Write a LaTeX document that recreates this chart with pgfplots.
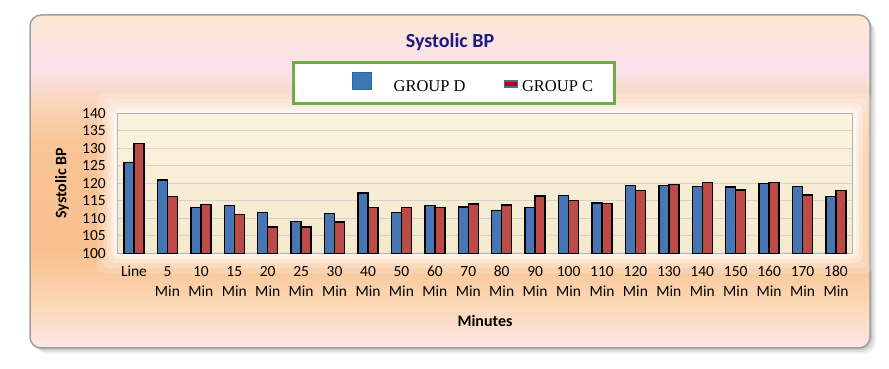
\documentclass[border=0pt]{standalone}
\usepackage{pgfplots}
\pgfplotsset{compat=1.18}
\usepackage{pgfplotstable}
\usepackage{fontspec}
\setmainfont{Carlito}
\newfontfamily\legfont{Liberation Serif}

\definecolor{barblue}{HTML}{4676B4}
\definecolor{barred}{HTML}{BC4A47}
\definecolor{titlenavy}{HTML}{1B1B82}
\definecolor{leggreen}{HTML}{70AD47}
\definecolor{legblue}{HTML}{3A76B8}
\definecolor{legred}{HTML}{C00000}
\definecolor{legredborder}{HTML}{4F6B8F}
\definecolor{fA}{HTML}{FCE7D2}
\definecolor{fB}{HTML}{FBE1EC}
\definecolor{fC}{HTML}{FAD6BE}
\definecolor{fD}{HTML}{F9C596}
\definecolor{fE}{HTML}{F9C08E}
\definecolor{fF}{HTML}{FBD6B2}
\definecolor{fG}{HTML}{FCE6E6}
\definecolor{plottop}{HTML}{FCF3DE}
\definecolor{plotbot}{HTML}{F4E9CC}

\pgfdeclareverticalshading{framebg}{100bp}{color(0bp)=(fG); color(25bp)=(fG); color(32.2bp)=(fF); color(39.7bp)=(fE); color(56.2bp)=(fD); color(62.2bp)=(fC); color(66.7bp)=(fB); color(75bp)=(fA); color(100bp)=(fA)}

\pgfplotstableread{
x D C
0 126.0 131.4
1 120.9 116.2
2 113.0 113.9
3 113.7 111.0
4 111.7 107.5
5 109.1 107.5
6 111.4 108.9
7 117.2 113.0
8 111.6 113.0
9 113.7 113.1
10 113.2 114.1
11 112.2 113.8
12 113.0 116.4
13 116.5 115.0
14 114.4 114.2
15 119.4 117.9
16 119.4 119.6
17 119.0 120.2
18 118.9 118.1
19 119.9 120.2
20 119.0 116.7
21 116.2 117.9
}\datatable

\begin{document}
\begin{tikzpicture}[x=1pt,y=1pt]
\path[use as bounding box] (0,0) rectangle (889,369);
% frame shadow
\foreach \o/\a in {6/0.06,4/0.08,2/0.1}{
  \fill[black,opacity=\a,rounded corners=12pt] (30+\o,21-\o) rectangle (870+\o,354-\o);
}
% frame
\draw[draw=gray!75,line width=1.5pt,rounded corners=11pt,shading=framebg] (30,21) rectangle (870,354);
% white glow around plot area
\foreach \g/\a in {20/0.18,15/0.22,10/0.3,6/0.4,3/0.5}{
  \fill[white,opacity=\a,rounded corners=8pt] (117.3-\g,115.7-\g) rectangle (852.7+\g,255.7+\g);
}
\begin{axis}[
  at={(117.3pt,115.7pt)}, anchor=south west,
  scale only axis, width=735.4pt, height=140pt,
  ybar=0pt, bar width=10pt,
  xmin=-0.5, xmax=21.5, ymin=100, ymax=140,
  xtick=data,
  xticklabels={\strut Line,{\strut 5\\\strut Min},{\strut 10\\\strut Min},{\strut 15\\\strut Min},{\strut 20\\\strut Min},{\strut 25\\\strut Min},{\strut 30\\\strut Min},{\strut 40\\\strut Min},{\strut 50\\\strut Min},{\strut 60\\\strut Min},{\strut 70\\\strut Min},{\strut 80\\\strut Min},{\strut 90\\\strut Min},{\strut 100\\\strut Min},{\strut 110\\\strut Min},{\strut 120\\\strut Min},{\strut 130\\\strut Min},{\strut 140\\\strut Min},{\strut 150\\\strut Min},{\strut 160\\\strut Min},{\strut 170\\\strut Min},{\strut 180\\\strut Min}},
  xticklabel style={align=center,font=\fontsize{15.5}{20}\selectfont,yshift=-6pt},
  ytick={100,105,...,140},
  yticklabel style={font=\fontsize{15.5}{18}\selectfont,xshift=-8pt},
  /pgf/number format/assume math mode=true,
  major tick length=0pt,
  ymajorgrids,
  grid style={draw=gray!35,line width=1.2pt},
  axis line style={draw=gray!60,line width=1.5pt},
  axis background/.style={top color=plottop,bottom color=plotbot},
  title={Systolic BP},
  title style={at={(axis description cs:0.4524,1.466)},anchor=center,yshift=0pt,font=\fontsize{20}{22}\selectfont\bfseries,text=titlenavy},
  xlabel={Minutes},
  xlabel style={at={(axis description cs:0.5,-0.4836)},anchor=center,font=\fontsize{16}{18}\selectfont\bfseries},
  ylabel={Systolic BP},
  ylabel style={at={(axis description cs:-0.0752,0.5)},anchor=center,font=\fontsize{16}{18}\selectfont\bfseries},
  legend columns=2,
  legend style={at={(axis description cs:0.2372,1.3736)},anchor=north west,
    draw=leggreen,line width=3pt,fill=white,
    inner xsep=21pt,inner ysep=9pt,
    column sep=0pt,
    nodes={inner sep=0pt,text depth=3pt},
    font=\legfont\fontsize{16.5}{18}\selectfont},
]
\addplot[draw=black,line width=1.4pt,fill=barblue,
  legend image code/.code={\path (0pt,-2pt) (78pt,15pt); \filldraw[fill=legblue,draw=legblue!85!black,line width=0.6pt] (37pt,-2pt) rectangle (56pt,15pt);}]
  table[x=x,y=D]{\datatable};
\addlegendentry{GROUP D}
\addplot[draw=black,line width=1.4pt,fill=barred,
  legend image code/.code={\path (0pt,-2pt) (55pt,15pt); \filldraw[fill=legred,draw=legredborder,line width=1.5pt] (38pt,0pt) rectangle (51pt,6pt);}]
  table[x=x,y=C]{\datatable};
\addlegendentry{GROUP C}
\end{axis}
\end{tikzpicture}
\end{document}
